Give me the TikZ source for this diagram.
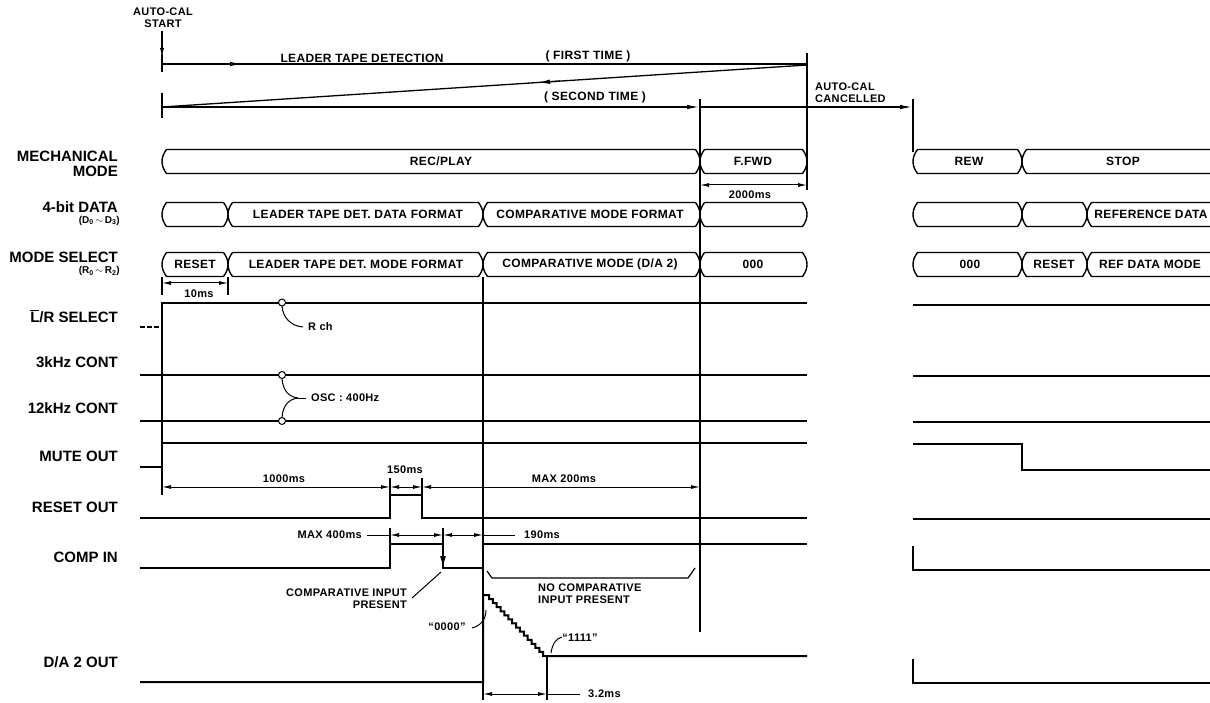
\documentclass[tikz,border=0pt]{standalone}
\usepackage{fontspec}
\setmainfont{Liberation Sans}
\newfontfamily\spc{Liberation Sans}[LetterSpace=3]
\usetikzlibrary{arrows.meta}
\newcommand\busseg[6]{%
  \draw[bus] (#1+4.5,#3-12) -- (#2-4.5,#3-12)
    .. controls (#2-1.5,#3-8) and (#2,#3-4) .. (#2,#3)
    .. controls (#2,#3+4) and (#2-1.5,#3+8) .. (#2-4.5,#3+12)
    -- (#1+4.5,#3+12)
    .. controls (#1+1.5,#3+8) and (#1,#3+4) .. (#1,#3)
    .. controls (#1,#3-4) and (#1+1.5,#3-8) .. (#1+4.5,#3-12) -- cycle;
  \node[lbl] (#4) at (#5,#3) {#6};}
\begin{document}
\begin{tikzpicture}[x=1pt,y=-1pt,
  sig/.style={line width=2pt, line join=miter},
  bus/.style={line width=1.4pt},
  guide/.style={line width=1.2pt},
  dim/.style={line width=1pt},
  tip/.style={-{Latex[length=10pt,width=4pt]}},
  dimarr/.style={dim,{Latex[length=9pt,width=4pt]}-{Latex[length=9pt,width=4pt]}},
  lbl/.style={font=\spc\bfseries\fontsize{12}{13}\selectfont, inner sep=0pt},
  slbl/.style={font=\spc\bfseries\fontsize{11}{12}\selectfont, inner sep=0pt},
  side/.style={font=\bfseries\fontsize{15}{15}\selectfont, anchor=east, align=right, inner sep=0pt},
  small/.style={font=\bfseries\fontsize{10}{10}\selectfont, anchor=east, inner sep=0pt}
]
\useasboundingbox (0,0) rectangle (1210,703);
\fill[white] (0,0) rectangle (1210,703);
\clip (0,0) rectangle (1210,703);

% ---------- top ----------
\node[slbl, align=center] (acs) at (163,18) {AUTO-CAL\\START};
\draw[guide,tip] (162,31) -- (162,58);
\draw[guide] (162,54) -- (162,72);
\draw[line width=1.5pt] (162,64) -- (807,64);
\draw[line width=1.5pt,-{Latex[length=13pt,width=4.5pt]}] (162,64) -- (243,64);
\node[lbl] (ltd) at (362,58) {LEADER TAPE DETECTION};
\node[lbl] (ft) at (588,56) {( FIRST TIME )};
\draw[guide] (807,53) -- (807,190);
\draw[line width=1.3pt] (807,65) -- (162,107);
\draw[line width=1.3pt,-{Latex[length=13pt,width=4.5pt]}] (560,81.08) -- (537,82.58);
\draw[guide] (162,93) -- (162,118);
\draw[line width=1.5pt,-{Latex[length=13pt,width=4.5pt]}] (162,107) -- (700,107);
\draw[line width=1.5pt,-{Latex[length=13pt,width=4.5pt]}] (700,107) -- (913,107);
\node[lbl] (st) at (595,97.5) {( SECOND TIME )};
\node[slbl, anchor=west, align=left] (acc) at (815,93) {AUTO-CAL\\CANCELLED};
\draw[guide] (700,99) -- (700,632);
\draw[guide] (913,99) -- (913,152);

% ---------- side labels ----------
\node[side] (lmech) at (118,163.5) {MECHANICAL\\MODE};
\node[side] (l4bit) at (118,207) {4-bit DATA};
\node[small] (l4sub) at (120,220.5) {(D\textsubscript{0}\,$\sim$\,D\textsubscript{3})};
\node[side] (lmode) at (118,257.5) {MODE SELECT};
\node[small] (lmsub) at (120,271) {(R\textsubscript{0}\,$\sim$\,R\textsubscript{2})};
\node[side] (llr) at (118,316) {$\overline{\hbox{L}}$/R SELECT};
\node[side] (l3k) at (118,362) {3kHz CONT};
\node[side] (l12k) at (118,408) {12kHz CONT};
\node[side] (lmute) at (118,456) {MUTE OUT};
\node[side] (lreset) at (118,507) {RESET OUT};
\node[side] (lcomp) at (118,557) {COMP IN};
\node[side] (lda) at (118,662) {D/A 2 OUT};

% ---------- buses ----------
\busseg{162}{700}{161.5}{m1}{441}{REC/PLAY}
\busseg{700}{807}{161.5}{m2}{753}{F.FWD}
\busseg{913}{1022}{161.5}{m3}{969}{REW}
\busseg{1022}{1240}{161.5}{m4}{1123}{STOP}

\busseg{162}{228}{214.5}{d1}{195}{}
\busseg{228}{483}{214.5}{d2}{358}{LEADER TAPE DET. DATA FORMAT}
\busseg{483}{700}{214.5}{d3}{590}{COMPARATIVE MODE FORMAT}
\busseg{700}{807}{214.5}{d4}{753}{}
\busseg{913}{1022}{214.5}{d5}{968}{}
\busseg{1022}{1087}{214.5}{d6}{1054}{}
\busseg{1087}{1240}{214.5}{d7}{1151}{REFERENCE DATA}

\busseg{162}{228}{264.5}{s1}{195}{RESET}
\busseg{228}{483}{264.5}{s2}{356}{LEADER TAPE DET. MODE FORMAT}
\busseg{483}{700}{264.5}{s3}{590}{COMPARATIVE MODE (D/A 2)}
\busseg{700}{807}{264.5}{s4}{753}{000}
\busseg{913}{1022}{264.5}{s5}{970}{000}
\busseg{1022}{1087}{264.5}{s6}{1054}{RESET}
\busseg{1087}{1240}{264.5}{s7}{1150}{REF DATA MODE}

% dimensions in bus area
\draw[dimarr] (700,185) -- (807,185);
\node[slbl] (t2000) at (750,195) {2000ms};
\draw[guide] (162,277) -- (162,295);
\draw[guide] (228,277) -- (228,295);
\draw[dimarr] (162,283) -- (228,283);
\node[slbl] (t10) at (199,294) {10ms};

% ---------- guides ----------
\draw[guide] (483,277) -- (483,700);
\draw[guide] (162,327) -- (162,443);
\draw[guide] (162,467) -- (162,495);

% ---------- signals ----------
\draw[sig, dash pattern=on 5pt off 2pt] (140,327) -- (160,327);
\draw[sig] (162,327) -- (162,303) -- (807,303);
\draw[sig] (913,305) -- (1210,305);
\draw[sig] (140,375) -- (807,375);
\draw[sig] (913,376) -- (1210,376);
\draw[sig] (140,421) -- (807,421);
\draw[sig] (913,422) -- (1210,422);
\draw[sig] (140,467) -- (162,467) -- (162,443) -- (807,443);
\draw[sig] (913,444) -- (1022,444) -- (1022,470) -- (1210,470);
\draw[sig] (140,518) -- (390,518) -- (390,495) -- (422,495) -- (422,518) -- (807,518);
\draw[sig] (913,519) -- (1210,519);
\draw[sig] (140,568) -- (390,568) -- (390,544) -- (443,544) -- (443,568) -- (483,568) -- (483,544) -- (807,544);
\draw[line width=1pt,-{Latex[length=11pt,width=6pt]}] (443,546) -- (443,567);
\draw[sig] (913,546) -- (913,570) -- (1210,570);
\draw[sig] (140,682) -- (483,682) -- (483,595) -- (489,595)
  \foreach \i in {1,...,15}{ -- ++(0,4.07) -- ++(3.87,0) } -- (807,656);
\draw[sig] (913,659) -- (913,683) -- (1210,683);

% circles and notes
\draw[line width=1pt, fill=white] (282,302.5) circle (3.5);
\draw[line width=1pt, fill=white] (282,375) circle (3.5);
\draw[line width=1pt, fill=white] (282,421) circle (3.5);
\draw[line width=1pt] (282,306) .. controls (283,318) and (291,326) .. (303,327);
\node[slbl, anchor=west] (rch) at (308,327) {R ch};
\draw[line width=1pt] (282,378.5) .. controls (283,392) and (290,397) .. (298,398);
\draw[line width=1pt] (282,417.5) .. controls (283,404) and (290,399) .. (298,398);
\draw[line width=1pt] (298,398) -- (306,398);
\node[slbl, anchor=west] (osc) at (311,398) {OSC : 400Hz};

% lower dimensions
\draw[guide] (390,478) -- (390,495);
\draw[guide] (422,478) -- (422,495);
\draw[dimarr] (162,487) -- (390,487);
\draw[dimarr] (390,487) -- (422,487);
\draw[dimarr] (422,487) -- (700,487);
\node[slbl] (t1000) at (284,479) {1000ms};
\node[slbl] (t150) at (405,470) {150ms};
\node[slbl] (t200) at (564,479) {MAX  200ms};

\draw[guide] (390,528) -- (390,544);
\draw[guide] (443,528) -- (443,544);
\draw[dim] (367,535) -- (390,535);
\draw[dimarr] (390,535) -- (443,535);
\draw[dimarr] (443,535) -- (483,535);
\draw[dim] (483,535) -- (515,535);
\node[slbl, anchor=east] (t400) at (362,535) {MAX 400ms};
\node[slbl, anchor=west] (t190) at (524,535) {190ms};

\draw[line width=1pt] (412,598) -- (441,572);
\node[slbl, anchor=east, align=right] (cip) at (407,598.5) {COMPARATIVE INPUT\\PRESENT};
\draw[line width=1.2pt] (487,571) -- (492,578) -- (688,578) -- (695,568);
\node[slbl, anchor=west, align=left] (ncip) at (538,593.5) {NO COMPARATIVE\\INPUT PRESENT};

\node[slbl] (q0) at (447,627) {“0000”};
\draw[line width=1pt] (472,628) .. controls (480,626) and (486,620) .. (486,610);
\node[slbl] (q1) at (580,638) {“1111”};
\draw[line width=1pt] (562,637) .. controls (556,638) and (552,645) .. (551,653);

\draw[guide] (547,656) -- (547,700);
\draw[dimarr] (483,694) -- (547,694);
\draw[dim] (547,694) -- (580,694);
\node[slbl, anchor=west] (t32) at (588,694) {3.2ms};
\end{tikzpicture}
\end{document}
